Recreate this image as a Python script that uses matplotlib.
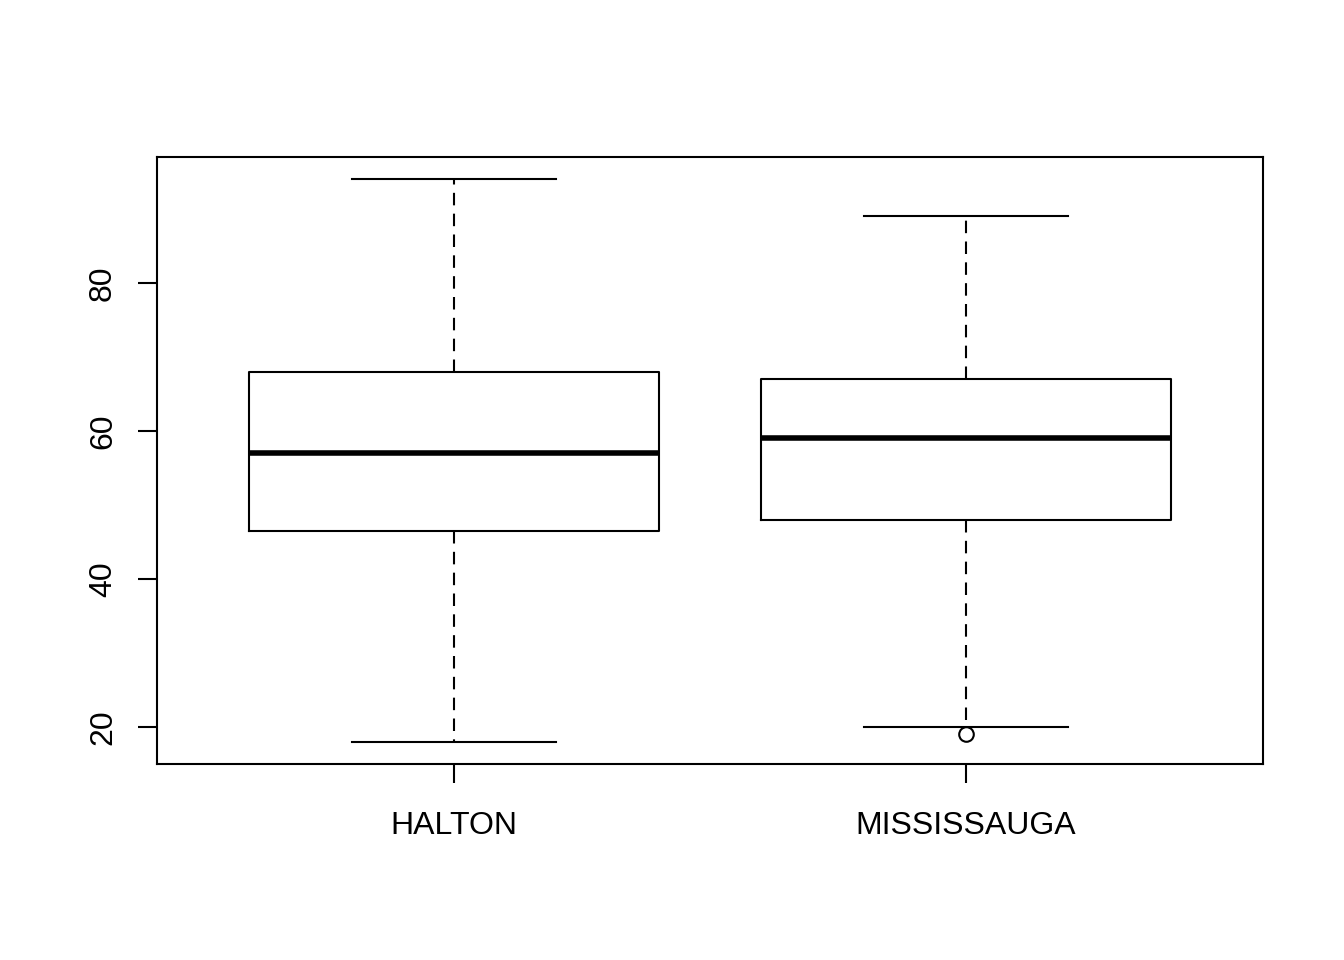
import matplotlib
matplotlib.use("Agg")
import matplotlib.pyplot as plt

plt.rcParams["font.family"] = ["Liberation Sans", "DejaVu Sans"]

# boxplot summary per group
groups = ["HALTON", "MISSISSAUGA"]
whislo = [18, 20]
q1 = [46.5, 48]
med = [57, 59]
q3 = [68, 67]
whishi = [94, 89]
fliers = [[], [19]]

stats = [
    {"label": g, "whislo": lo, "q1": a, "med": m, "q3": b, "whishi": hi, "fliers": f}
    for g, lo, a, m, b, hi, f in zip(groups, whislo, q1, med, q3, whishi, fliers)
]

fig = plt.figure(figsize=(13.44, 9.6), dpi=100)
ax = fig.add_axes([157 / 1344, 1 - 764 / 960, (1263 - 157) / 1344, (764 - 157) / 960])

lw = 1.5
ax.bxp(
    stats,
    positions=[1, 2],
    widths=0.8,
    showfliers=True,
    boxprops=dict(color="black", linewidth=lw),
    medianprops=dict(color="black", linewidth=4, solid_capstyle="butt"),
    whiskerprops=dict(color="black", linewidth=lw, linestyle=(0, (6, 4))),
    capprops=dict(color="black", linewidth=lw),
    capwidths=0.4,
    flierprops=dict(marker="o", markersize=10.5, markerfacecolor="white",
                    markeredgecolor="black", markeredgewidth=lw),
)

# R-style 4% range expansion
lo_all = min(whislo + [v for f in fliers for v in f])
hi_all = max(whishi)
pad = 0.04 * (hi_all - lo_all)
ax.set_ylim(lo_all - pad, hi_all + pad)
ax.set_xlim(0.42, 2.58)

ax.set_yticks([20, 40, 60, 80])
ax.set_yticklabels(["20", "40", "60", "80"], rotation=90, va="center")
ax.set_xticks([1, 2])
ax.set_xticklabels(groups)
ax.tick_params(axis="both", direction="out", length=14, width=lw, labelsize=23)
ax.tick_params(axis="y", pad=14)
ax.tick_params(axis="x", pad=20)
for s in ax.spines.values():
    s.set_linewidth(lw)

fig.savefig("out.png", dpi=100)
